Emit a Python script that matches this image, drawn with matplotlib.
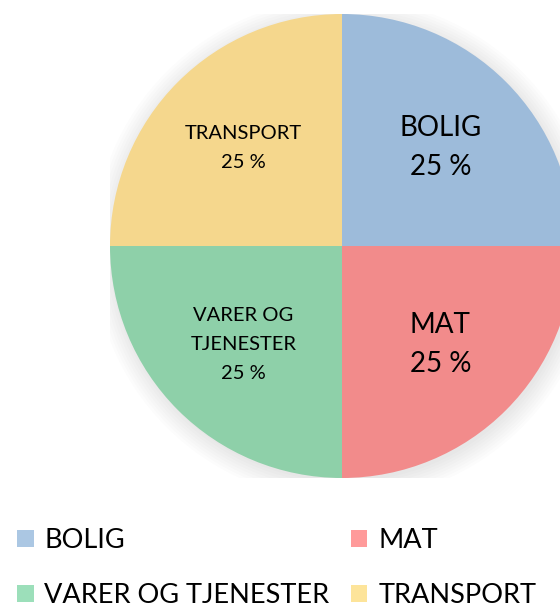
import numpy as np
import matplotlib
matplotlib.use("Agg")
import matplotlib.pyplot as plt
from matplotlib.patches import Patch, Circle

categories = ["BOLIG", "MAT", "VARER OG\nTJENESTER", "TRANSPORT"]
legend_names = ["BOLIG", "MAT", "VARER OG TJENESTER", "TRANSPORT"]
shares = [25, 25, 25, 25]
pie_colors = ["#9DBBDA", "#F28B8B", "#8ED0A9", "#F5D78D"]
legend_colors = ["#ABC7E3", "#FF9A9A", "#9CDFBA", "#FDE49A"]
label_sizes = [20, 20, 14.5, 14.5]
label_spacing = [1.6, 1.6, 1.85, 1.85]

plt.rcParams['font.family'] = ['Lato', 'DejaVu Sans']

W, H = 560, 611
fig = plt.figure(figsize=(W / 100, H / 100), dpi=100)
fig.patch.set_facecolor("white")

cx, cy, r = 342, 246, 232
ax = fig.add_axes([(cx - r) / W, (H - cy - r) / H, 2 * r / W, 2 * r / H])
ax.axis("off")

# faint shadow around the pie
for k in range(8):
    ax.add_patch(Circle((0.01, -0.015), 1.0 + 0.012 * k, color="#000000",
                        alpha=0.01, lw=0, zorder=0))

wedges, _ = ax.pie(shares, colors=pie_colors, startangle=90, counterclock=False,
                   radius=1.0, wedgeprops=dict(linewidth=0))
for w in wedges:
    w.set_zorder(2)

ax.set_xlim(-1, 1)
ax.set_ylim(-1, 1)
ax.set_aspect("equal")

for w, cat, val, fs, ls in zip(wedges, categories, shares, label_sizes, label_spacing):
    ang = np.deg2rad((w.theta1 + w.theta2) / 2)
    ax.text(0.6 * np.cos(ang), 0.6 * np.sin(ang), f"{cat}\n{val} %",
            ha="center", va="center", fontsize=fs, color="black",
            linespacing=ls, zorder=3)

order = [0, 2, 1, 3]
handles = [Patch(facecolor=legend_colors[i], edgecolor="none") for i in order]
fig.legend(handles, [legend_names[i] for i in order], ncol=2,
           loc="lower left", bbox_to_anchor=(0.002, -0.022), frameon=False,
           fontsize=19.5, handlelength=0.6, handleheight=0.6, handletextpad=0.4,
           columnspacing=0.8, labelspacing=1.1, borderaxespad=0.2)

fig.savefig("out.png", dpi=100)
